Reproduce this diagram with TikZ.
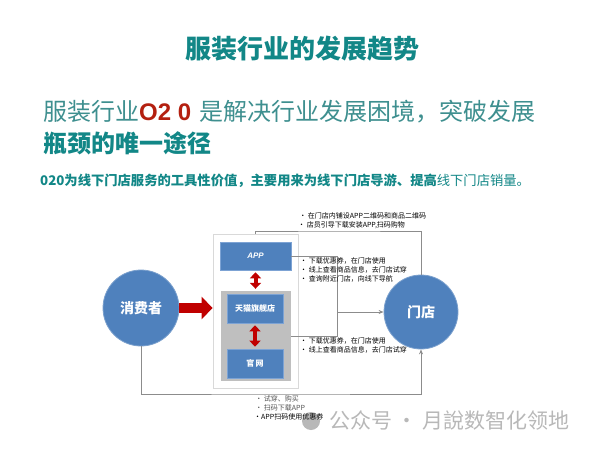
\documentclass[tikz,border=0pt]{standalone}
\usepackage{fontspec}
\setmainfont{Noto Sans CJK SC}
\newfontfamily\latinfont{Liberation Sans}
\usepackage{xcolor}
\usepackage{tikz}
\usetikzlibrary{arrows.meta}
\definecolor{headteal}{HTML}{128787}
\definecolor{subteal}{HTML}{3E8F8F}
\definecolor{ored}{HTML}{B42010}
\definecolor{ppblue}{HTML}{4F81BD}
\definecolor{ppedge}{HTML}{7DA3D4}
\definecolor{trayfill}{HTML}{BFBFBF}
\definecolor{panedge}{HTML}{D9D9D9}
\definecolor{linkgray}{HTML}{8C8C8C}
\definecolor{pushred}{HTML}{C00000}
\definecolor{notegray}{HTML}{555555}
\definecolor{markgray}{HTML}{B8B8B8}
\tikzset{
  bubble/.style = {circle, fill=ppblue, draw=ppblue!75!white, line width=0.8pt,
                   text=white, inner sep=0pt,
                   font=\fontsize{14}{16}\selectfont\bfseries},
  tile/.style   = {rectangle, fill=ppblue, draw=ppedge, line width=0.6pt,
                   text=white, inner sep=0pt,
                   font=\fontsize{8}{10}\selectfont\bfseries},
  panel/.style  = {rectangle, fill=white, draw=panedge, line width=0.8pt},
  tray/.style   = {rectangle, fill=trayfill, draw=none},
  link/.style   = {draw=linkgray, line width=0.9pt},
  tip/.style    = {-{Stealth[length=5pt, width=4pt]}},
  push/.style   = {draw=pushred, line width=10pt,
                   -{Triangle[length=11pt, width=22pt]}},
  swap/.style   = {draw=pushred, line width=4pt, shorten <=2pt, shorten >=2pt,
                   {Triangle[length=6pt, width=11pt]}-{Triangle[length=6pt, width=11pt]}},
  note/.style   = {anchor=north west, align=left, inner sep=0pt,
                   font=\fontsize{7}{9}\selectfont},
}
\begin{document}
\begin{tikzpicture}[x=1pt, y=-1pt]
  \useasboundingbox (0,0) rectangle (602,452);
  \fill[white] (0,0) rectangle (602,452);

  % headings
  \node[font=\fontsize{26}{28}\selectfont\bfseries, text=headteal] (title) at (302,49) {服装行业的发展趋势};
  \node[anchor=west, inner sep=0pt, font=\fontsize{24}{28}\selectfont, text=subteal] (lead1) at (43,112)
    {服装行业{\latinfont\bfseries\color{ored}O2 0}\hspace{8pt}是解决行业发展困境，突破发展};
  \node[anchor=west, inner sep=0pt, font=\fontsize{24}{28}\selectfont\bfseries, text=headteal] (lead2) at (43,143)
    {瓶颈的唯一途径};
  \node[anchor=west, inner sep=0pt, font=\fontsize{13.3}{15}\selectfont\bfseries, text=headteal] (lead3) at (40,181)
    {020为线下门店服务的工具性价值，主要用来为线下门店导游、提高{\mdseries 线下门店销量。}};

  % channels
  \node[bubble, minimum size=76pt] (user) at (141,308) {消费者};
  \node[bubble, minimum size=74pt] (shop) at (421,312) {门店};
  \node[panel, minimum width=85pt, minimum height=154pt] (frame) at (255.5,311) {};
  \node[tile, minimum width=71pt, minimum height=28pt] (app) at (255.5,256) {{\latinfont\bfseries\itshape APP}};
  \node[tray, minimum width=70pt, minimum height=90pt] (tray) at (256,336) {};
  \node[tile, minimum width=56pt, minimum height=29pt] (tmall) at (255,308.5) {天猫旗舰店};
  \node[tile, minimum width=56pt, minimum height=29pt] (site) at (255,363.5) {官\,网};

  \draw[push] (user.east) -- (user.east -| frame.west);
  \draw[swap] (app.south) -- (app.south |- tray.north);
  \draw[swap] (tmall.south) -- (site.north);

  % paths to the shop
  \coordinate (toprail) at (340,231);
  \coordinate (merge) at (337,312);
  \coordinate (botrail) at (280,394);
  \draw[link] (frame.north) |- (toprail) -| (shop.north);
  \draw[link] (app.east) -| (merge);
  \draw[link] (tray.east) -| (merge);
  \draw[link, tip] (merge) -- (shop.west);
  \draw[link, tip] (user.south) |- (botrail) -| (shop.south);

  % watermark
  \node[circle, fill=markgray, minimum size=18pt, inner sep=0pt] (wechat) at (311,421) {};
  \node[anchor=west, inner sep=0pt, font=\fontsize{21}{23}\selectfont, text=markgray] (mark) at (329,420)
    {公众号 · 月說数智化领地};

  \node[note] (topnote) at (298,212) {\,• 在门店内铺设APP二维码和商品二维码\\• 店员引导下载安装APP,扫码购物};
  \node[note] (appnote) at (300,257) {• 下载优惠券，在门店使用\\• 线上查看商品信息，去门店试穿\\• 查询附近门店，向线下导航};
  \node[note] (sitenote) at (300,337) {• 下载优惠券，在门店使用\\• 线上查看商品信息，去门店试穿};
  \node[note, text=notegray] (buynote) at (254,395) {\,• 试穿、购买\\\,• 扫码下载APP\\{\color{black}·APP扫码使用优惠券}};
\end{tikzpicture}
\end{document}
